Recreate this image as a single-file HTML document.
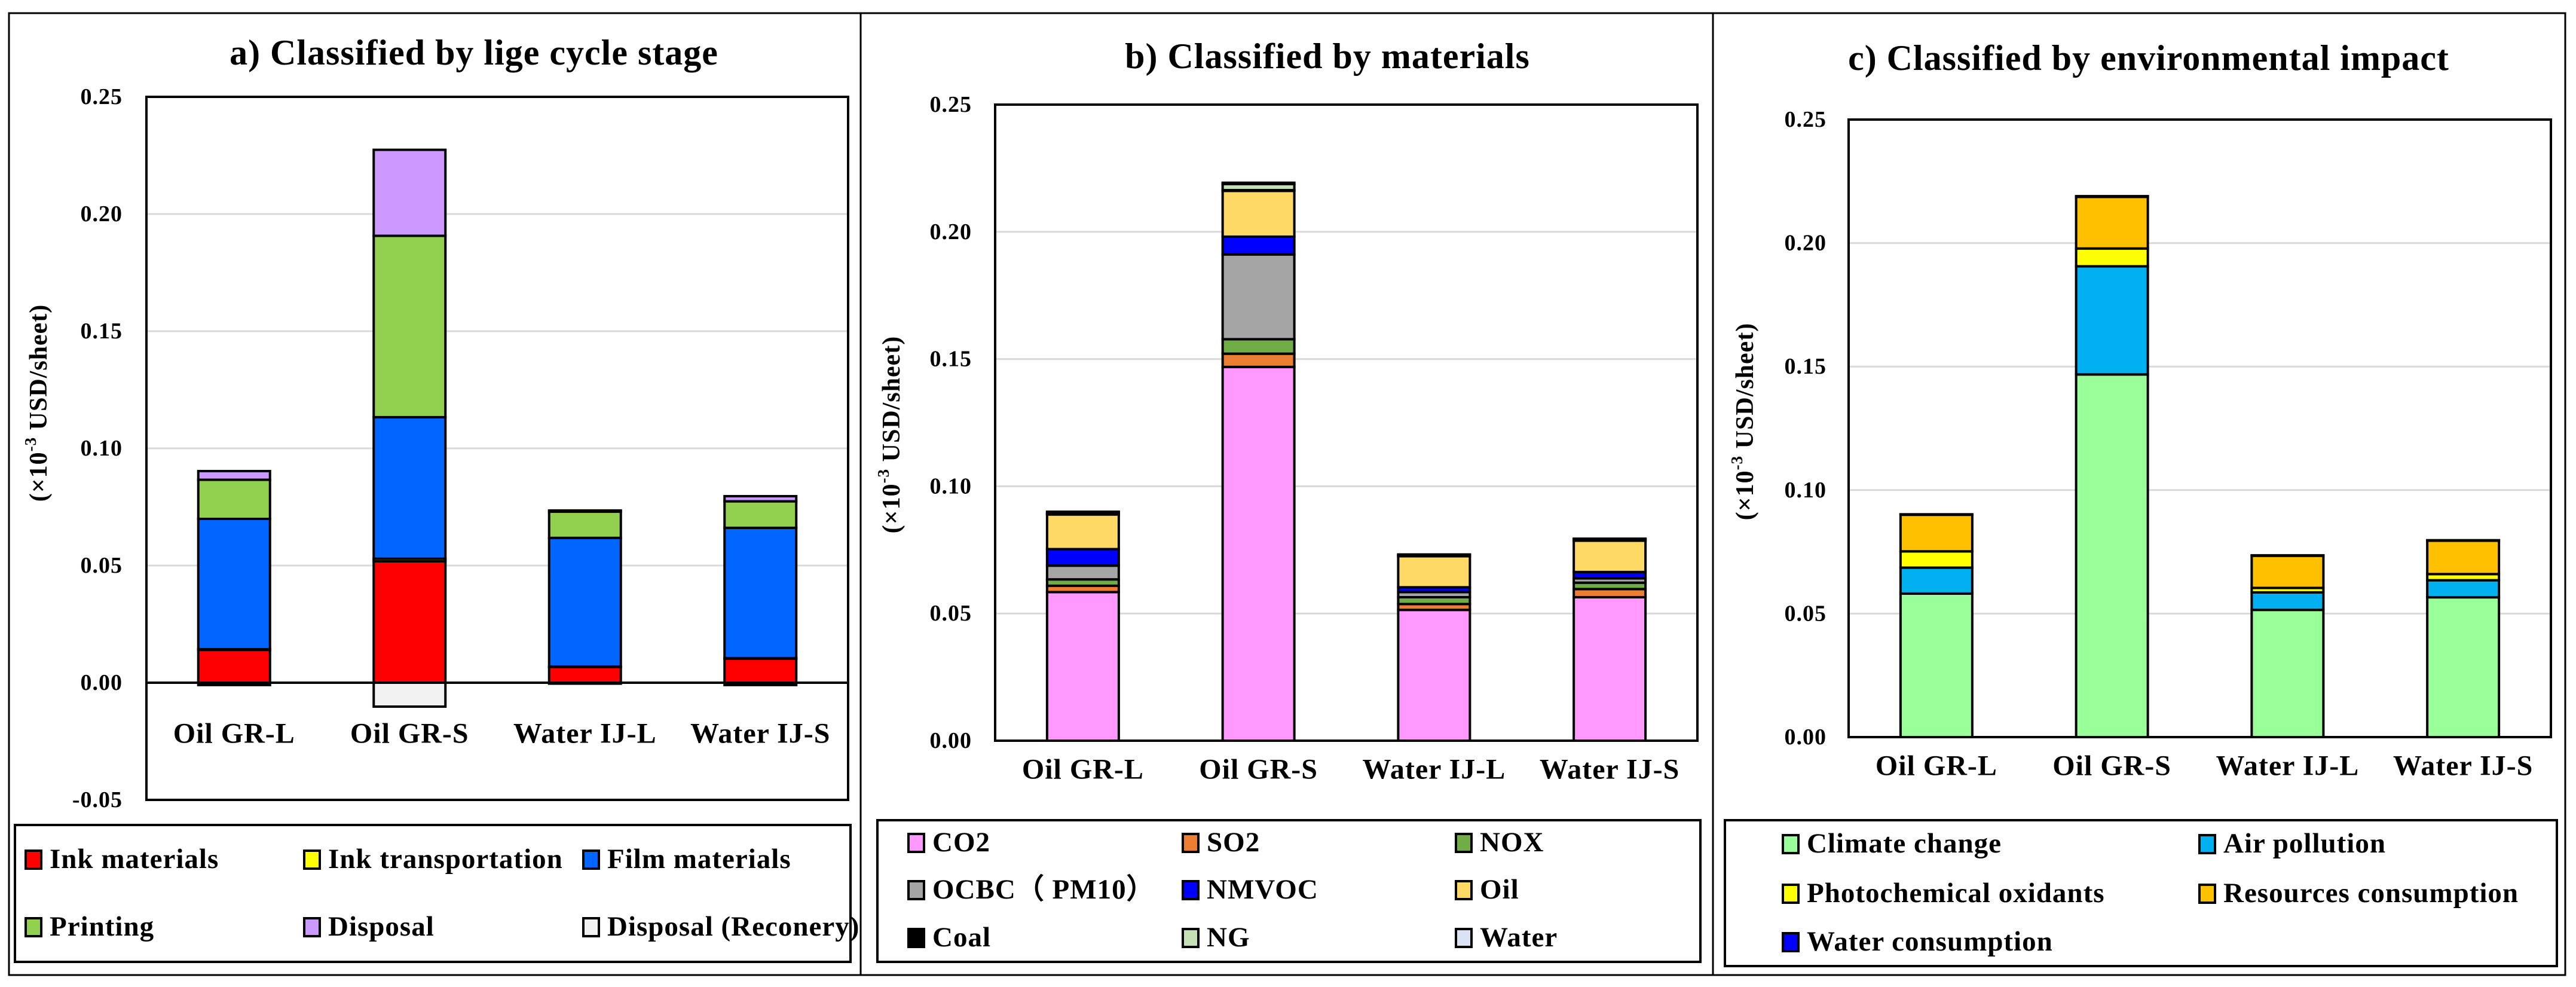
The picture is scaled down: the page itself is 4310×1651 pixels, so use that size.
<!DOCTYPE html>
<html><head><meta charset="utf-8"><style>
html,body{margin:0;padding:0;background:#fff;width:4310px;height:1651px;overflow:hidden}
svg text{font-family:"Liberation Serif",serif;font-weight:bold;fill:#000;letter-spacing:1px}
</style></head><body>
<svg id="fig" width="4310" height="1651" viewBox="0 0 4310 1651" xmlns="http://www.w3.org/2000/svg">
<rect x="0" y="0" width="4310" height="1651" fill="#fff"/>
<rect x="15" y="22" width="4277" height="1609" fill="none" stroke="#000" stroke-width="3"/>
<line x1="1440" y1="22" x2="1440" y2="1631" stroke="#000" stroke-width="3"/>
<line x1="2866" y1="22" x2="2866" y2="1631" stroke="#000" stroke-width="3"/>
</svg>
<script>
// shared
const categories = ["Oil GR-L","Oil GR-S","Water IJ-L","Water IJ-S"];
const yTicksA = ["-0.05","0.00","0.05","0.10","0.15","0.20","0.25"];
const yTicksBC = ["0.00","0.05","0.10","0.15","0.20","0.25"];

// panel a: life cycle stage
const seriesNamesA = ["Ink materials","Ink transportation","Film materials","Printing","Disposal","Disposal (Reconery)"];
const seriesColorsA = ["#FF0000","#FFFF00","#0066FF","#92D050","#CC99FF","#F2F2F2"];
const inkMaterials = [0.014,0.0518,0.0067,0.0102];
const inkTransport = [0.0003,0.0011,0.0002,0.0003];
const filmMaterials = [0.0556,0.0604,0.0549,0.0556];
const printing = [0.0167,0.0774,0.0112,0.0113];
const disposal = [0.0037,0.0367,0.0005,0.0022];
const disposalRecovery = [-0.001,-0.0102,-0.0004,-0.001];

// panel b: materials
const seriesNamesB = ["CO2","SO2","NOX","OCBC（ PM10）","NMVOC","Oil","Coal","NG","Water"];
const seriesColorsB = ["#FF99FF","#ED7D31","#70AD47","#A5A5A5","#0000FF","#FFD966","#000000","#C5E0B4","#DAE3F3"];
const co2 = [0.0584,0.1469,0.0514,0.0564];
const so2 = [0.0025,0.0052,0.0023,0.0032];
const nox = [0.0025,0.0057,0.0027,0.0025];
const ocbc = [0.0054,0.0333,0.002,0.0017];
const nmvoc = [0.0065,0.007,0.0019,0.0025];
const oil = [0.0136,0.018,0.0122,0.0123];
const coal = [0.0003,0.0003,0.0003,0.0003];
const ng = [0.0005,0.0024,0.0002,0.0003];
const water = [0.0003,0.0005,0.0002,0.0002];

// panel c: environmental impact
const seriesNamesC = ["Climate change","Air pollution","Photochemical oxidants","Resources consumption","Water consumption"];
const seriesColorsC = ["#99FF99","#00B0F0","#FFFF00","#FFC000","#0000FF"];
const climateChange = [0.0581,0.1468,0.0515,0.0566];
const airPollution = [0.0105,0.0438,0.0071,0.0069];
const photochemical = [0.0066,0.0072,0.0018,0.0025];
const resources = [0.0148,0.0209,0.013,0.0135];
const waterConsumption = [0.0002,0.0003,0.0002,0.0002];

const NS="http://www.w3.org/2000/svg";
const svg=document.getElementById('fig');
function mk(tag,attrs,parent){const e=document.createElementNS(NS,tag);for(const k in attrs)e.setAttribute(k,attrs[k]);(parent||svg).appendChild(e);return e;}

function drawPanel(p){
  const g=mk('g',{});
  
  
  const H=p.bottom-p.top;
  const y=v=>p.bottom-(v-p.yMin)/(p.yMax-p.yMin)*H;
  const bandW=(p.right-p.left)/categories.length;
  const xc=i=>p.left+bandW*(i+0.5);
  const t=mk('text',{x:p.titleX,y:p.titleY,'text-anchor':'middle','dominant-baseline':'central','font-size':60},g);
  t.textContent=p.title;
  
  
  p.ticks.forEach(lbl=>{
    const v=parseFloat(lbl), yy=y(v);
    if(v>p.yMin && v<p.yMax && v!==0){
      const gl=mk('line',{x1:p.left,x2:p.right,y1:yy,y2:yy,stroke:'#D9D9D9','stroke-width':3},g);
      
      
    }
    const tl=mk('text',{x:p.tickX,y:yy,'text-anchor':'end','dominant-baseline':'central','font-size':38},g);
    tl.textContent=lbl;
    
    
  });
  const yt=mk('text',{x:0,y:0,'text-anchor':'middle','dominant-baseline':'central','font-size':42,transform:`translate(${p.yTitleX},${p.yTitleY}) rotate(-90)`},g);
  
  
  const s1=mk('tspan',{},yt);s1.textContent='(×10';
  const s2=mk('tspan',{dy:-14,'font-size':27},yt);s2.textContent='-3';
  const s3=mk('tspan',{dy:14},yt);s3.textContent=' USD/sheet)';
  const bw=120;
  categories.forEach((c,i)=>{
    let pos=0,neg=0;
    p.series.forEach((arr,si)=>{
      const v=arr[i];let y0,y1;
      if(v>=0){y0=y(pos+v);y1=y(pos);pos+=v;}else{y0=y(neg);y1=y(neg+v);neg+=v;}
      const r=mk('rect',{x:xc(i)-bw/2,y:y0,width:bw,height:Math.max(0.5,y1-y0),fill:p.colors[si],stroke:'#000','stroke-width':4},g);
      
      
    });
    const cl=mk('text',{x:xc(i),y:p.catY,'text-anchor':'middle','dominant-baseline':'central','font-size':48},g);
    cl.textContent=c;
    
    
  });
  if(p.yMin<0){
    const zl=mk('line',{x1:p.left,x2:p.right,y1:y(0),y2:y(0),stroke:'#000','stroke-width':4},g);
    
    
  }
  const pb=mk('rect',{x:p.left,y:p.top,width:p.right-p.left,height:H,fill:'none',stroke:'#000','stroke-width':4},g);
  
  
  const lb=mk('rect',{x:p.leg.x,y:p.leg.y,width:p.leg.w,height:p.leg.h,fill:'#fff',stroke:'#000','stroke-width':4},g);
  
  
  p.names.forEach((n,si)=>{
    const col=si%p.leg.cols.length,row=Math.floor(si/p.leg.cols.length);
    const lx=p.leg.cols[col],ly=p.leg.rows[row];
    const sw=mk('rect',{x:lx,y:ly-14,width:26,height:30,fill:p.colors[si],stroke:'#000','stroke-width':4},g);
    
    
    const lt=mk('text',{x:lx+40,y:ly,'dominant-baseline':'central','font-size':47},g);
    lt.textContent=n;
    
    
  });
}

drawPanel({id:'panel-a',title:'a) Classified by lige cycle stage',titleX:793,titleY:88,
  left:245,right:1419,top:162,bottom:1338,yMin:-0.05,yMax:0.25,ticks:yTicksA,tickX:205,
  yTitleX:65,yTitleY:674,catY:1227,
  series:[inkMaterials,inkTransport,filmMaterials,printing,disposal,disposalRecovery],
  colors:seriesColorsA,names:seriesNamesA,
  leg:{x:25,y:1380,w:1398,h:229,cols:[43,509,976],rows:[1437,1550]}});

drawPanel({id:'panel-b',title:'b) Classified by materials',titleX:2221,titleY:94,
  left:1665,right:2840,top:175,bottom:1239,yMin:0,yMax:0.25,ticks:yTicksBC,tickX:1626,
  yTitleX:1492,yTitleY:727,catY:1287,
  series:[co2,so2,nox,ocbc,nmvoc,oil,coal,ng,water],
  colors:seriesColorsB,names:seriesNamesB,
  leg:{x:1468,y:1372,w:1377,h:237,cols:[1520,1979,2436],rows:[1409,1488,1568]}});

drawPanel({id:'panel-c',title:'c) Classified by environmental impact',titleX:3595,titleY:97,
  left:3093,right:4268,top:200,bottom:1233,yMin:0,yMax:0.25,ticks:yTicksBC,tickX:3056,
  yTitleX:2920,yTitleY:705,catY:1281,
  series:[climateChange,airPollution,photochemical,resources,waterConsumption],
  colors:seriesColorsC,names:seriesNamesC,
  leg:{x:2886,y:1372,w:1392,h:244,cols:[2983,3680],rows:[1411,1494,1575]}});
</script>
</body></html>
